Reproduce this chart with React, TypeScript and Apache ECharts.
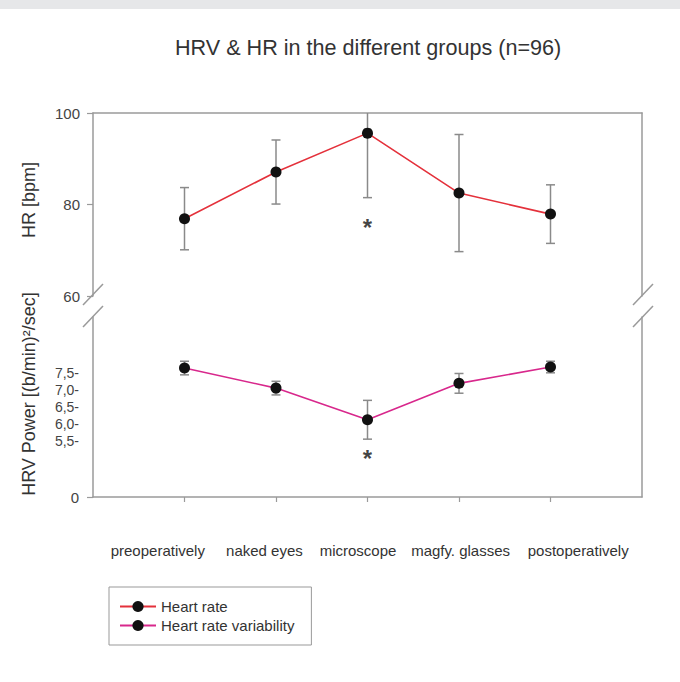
import React, { useEffect, useRef } from "react";
import * as echarts from "echarts";

// ---- data ----
const categories = ["preoperatively", "naked eyes", "microscope", "magfy. glasses", "postoperatively"];
const categoryPositions = [1, 2, 3, 4, 5];
const hrMean = [76.9, 87.1, 95.6, 82.5, 77.9];
const hrSd = [6.8, 7.0, 14.1, 12.8, 6.4];
const hrvMean = [7.65, 7.06, 6.13, 7.2, 7.68];
const hrvSd = [0.2, 0.2, 0.57, 0.29, 0.17];
const hrTicks = [60, 80, 100];
const hrvTickValues = [5.5, 6.0, 6.5, 7.0, 7.5];
const hrvAxisMin = 3.86;
const hrvAxisMax = 9.15;
const significantIndex = 2;
const hrAsteriskValue = 75.5;
const hrvAsteriskValue = 5.05;

// ---- style ----
const FONT = "'Liberation Sans', Arial, sans-serif";
const NARROW = "'Liberation Sans Narrow', 'Arial Narrow', 'Liberation Sans', Arial, sans-serif";
const AXIS_GRAY = "#9a9a9a";
const ERR_GRAY = "#8a8a8a";
// small horizontal nudges (px) of the category labels, as typeset in the original
const LABEL_NUDGE = [1, 4, -6, -7, 7];

function errorBarRender(params: any, api: any) {
  const x = api.value(0);
  const lo = api.value(1);
  const hi = api.value(2);
  const pLo = api.coord([x, lo]);
  const pHi = api.coord([x, hi]);
  const cs = params.coordSys;
  const topClipped = pHi[1] < cs.y;
  const botClipped = pLo[1] > cs.y + cs.height;
  const top = Math.max(pHi[1], cs.y);
  const bot = Math.min(pLo[1], cs.y + cs.height);
  const w = 4.5;
  const style = { stroke: ERR_GRAY, lineWidth: 1.5 };
  const children: any[] = [
    { type: "line", shape: { x1: pLo[0], y1: top, x2: pLo[0], y2: bot }, style },
  ];
  if (!topClipped) children.push({ type: "line", shape: { x1: pHi[0] - w, y1: top, x2: pHi[0] + w, y2: top }, style });
  if (!botClipped) children.push({ type: "line", shape: { x1: pLo[0] - w, y1: bot, x2: pLo[0] + w, y2: bot }, style });
  return { type: "group", children };
}

function breakMarks(xs: number[]) {
  const out: any[] = [];
  xs.forEach((x) => {
    out.push({ type: "line", shape: { x1: x - 10, y1: 305, x2: x + 10, y2: 284 }, style: { stroke: AXIS_GRAY, lineWidth: 1.5 } });
    out.push({ type: "line", shape: { x1: x - 10, y1: 327, x2: x + 10, y2: 306 }, style: { stroke: AXIS_GRAY, lineWidth: 1.5 } });
  });
  return out;
}

export default function App() {
  const ref = useRef<HTMLDivElement>(null);
  useEffect(() => {
    if (!ref.current) return;
    const chart = echarts.init(ref.current, null, { renderer: "svg" });
    const axisLine = { show: true, lineStyle: { color: AXIS_GRAY, width: 1.5 } };
    const asteriskLabel = {
      show: true, position: "inside", formatter: "*", fontSize: 24, fontWeight: "bold",
      color: "#111", fontFamily: FONT, offset: [0, 2],
    };
    const catRich: any = {};
    LABEL_NUDGE.forEach((d, i) => {
      catRich["c" + i] = {
        fontSize: 15, color: "#333", fontFamily: FONT,
        padding: d >= 0 ? [0, 0, 0, 2 * d] : [0, -2 * d, 0, 0],
      };
    });
    const option: any = {
      animation: false,
      backgroundColor: "#ffffff",
      textStyle: { fontFamily: FONT },
      title: {
        text: "HRV & HR in the different groups (n=96)",
        left: 170,
        top: 31,
        textStyle: { fontSize: 21.6, fontWeight: "normal", color: "#333", fontFamily: FONT },
      },
      legend: {
        data: ["Heart rate", "Heart rate variability"],
        orient: "vertical",
        left: 109,
        top: 587,
        padding: [12, 17, 12, 10],
        itemGap: 4,
        itemWidth: 36,
        itemHeight: 14,
        borderColor: "#999",
        borderWidth: 1,
        textStyle: { fontSize: 15, color: "#333", fontFamily: FONT },
      },
      grid: [
        { left: 93, right: 38, top: 113, height: 183 },
        { left: 93, right: 38, top: 317, height: 180 },
        { left: 105, right: 57, top: 530, height: 10 },
      ],
      xAxis: [
        {
          gridIndex: 0, type: "value", min: 0, max: 6, position: "top",
          axisLine, axisTick: { show: false }, axisLabel: { show: false }, splitLine: { show: false },
        },
        {
          gridIndex: 1, type: "value", min: 0, max: 6, position: "bottom",
          axisLine,
          axisTick: { show: true, customValues: categoryPositions, length: 5, lineStyle: { color: AXIS_GRAY, width: 1.2 } },
          axisLabel: { show: false }, splitLine: { show: false },
        },
        {
          gridIndex: 2, type: "category", data: categories, position: "bottom",
          axisLine: { show: false }, axisTick: { show: false },
          axisLabel: {
            margin: 3, fontSize: 15, color: "#333", fontFamily: FONT, interval: 0,
            formatter: (v: string, i: number) => "{c" + i + "|" + v + "}",
            rich: catRich,
          },
        },
      ],
      yAxis: [
        {
          gridIndex: 0, type: "value", min: hrTicks[0], max: hrTicks[hrTicks.length - 1], interval: hrTicks[1] - hrTicks[0],
          name: "HR [bpm]", nameLocation: "middle", nameGap: 55,
          nameTextStyle: { fontSize: 18, color: "#333", fontFamily: FONT, padding: [0, 0, 0, 9] },
          axisLine, axisTick: { show: true, length: 6, lineStyle: { color: AXIS_GRAY, width: 1.2 } },
          axisLabel: { margin: 13, fontSize: 15, color: "#444", fontFamily: FONT },
          splitLine: { show: false },
        },
        {
          gridIndex: 0, type: "value", min: hrTicks[0], max: hrTicks[hrTicks.length - 1], position: "right",
          axisLine, axisTick: { show: false }, axisLabel: { show: false }, splitLine: { show: false },
        },
        {
          gridIndex: 1, type: "value", min: hrvAxisMin, max: hrvAxisMax,
          name: "HRV Power [(b/min)²/sec]", nameLocation: "middle", nameGap: 55,
          nameTextStyle: { fontSize: 18, color: "#333", fontFamily: FONT, padding: [0, 0, 0, 26] },
          axisLine,
          axisTick: { show: true, customValues: [hrvAxisMin], length: 6, lineStyle: { color: AXIS_GRAY, width: 1.2 } },
          axisLabel: {
            customValues: [hrvAxisMin, ...hrvTickValues],
            margin: 14, color: "#444",
            formatter: (v: number) =>
              Math.abs(v - hrvAxisMin) < 1e-6 ? "{zero|0}" : "{t|" + v.toFixed(1).replace(".", ",") + "-}",
            rich: {
              zero: { fontSize: 15, color: "#444", fontFamily: FONT },
              t: { fontSize: 14, color: "#444", fontFamily: NARROW },
            },
          },
          splitLine: { show: false },
        },
        {
          gridIndex: 1, type: "value", min: hrvAxisMin, max: hrvAxisMax, position: "right",
          axisLine, axisTick: { show: false }, axisLabel: { show: false }, splitLine: { show: false },
        },
        { gridIndex: 2, type: "value", show: false },
      ],
      graphic: [
        { type: "rect", shape: { x: 0, y: 0, width: 680, height: 9 }, style: { fill: "#e6e7e9" }, silent: true },
        ...breakMarks([93, 643]),
      ],
      series: [
        {
          name: "hrErr", type: "custom", xAxisIndex: 0, yAxisIndex: 0, z: 1, silent: true,
          data: hrMean.map((m, i) => [categoryPositions[i], m - hrSd[i], m + hrSd[i]]),
          renderItem: errorBarRender,
        },
        {
          name: "Heart rate", type: "line", xAxisIndex: 0, yAxisIndex: 0, z: 3,
          data: hrMean.map((m, i) => [categoryPositions[i], m]),
          symbol: "circle", symbolSize: 11,
          itemStyle: { color: "#111" },
          lineStyle: { color: "#e4313b", width: 1.6 },
        },
        {
          name: "hrvErr", type: "custom", xAxisIndex: 1, yAxisIndex: 2, z: 1, silent: true,
          data: hrvMean.map((m, i) => [categoryPositions[i], m - hrvSd[i], m + hrvSd[i]]),
          renderItem: errorBarRender,
        },
        {
          name: "Heart rate variability", type: "line", xAxisIndex: 1, yAxisIndex: 2, z: 3,
          data: hrvMean.map((m, i) => [categoryPositions[i], m]),
          symbol: "circle", symbolSize: 11,
          itemStyle: { color: "#111" },
          lineStyle: { color: "#d8288c", width: 1.6 },
        },
        {
          name: "sigHr", type: "scatter", xAxisIndex: 0, yAxisIndex: 0, silent: true,
          data: [[categoryPositions[significantIndex], hrAsteriskValue]],
          symbolSize: 1, itemStyle: { color: "rgba(0,0,0,0)" },
          label: asteriskLabel,
        },
        {
          name: "sigHrv", type: "scatter", xAxisIndex: 1, yAxisIndex: 2, silent: true,
          data: [[categoryPositions[significantIndex], hrvAsteriskValue]],
          symbolSize: 1, itemStyle: { color: "rgba(0,0,0,0)" },
          label: asteriskLabel,
        },
      ],
    };
    chart.setOption(option);
    return () => chart.dispose();
  }, []);
  return (
    <div
      ref={ref}
      style={{ position: "fixed", left: 0, top: 0, width: 680, height: 682, background: "#fff" }}
    />
  );
}
